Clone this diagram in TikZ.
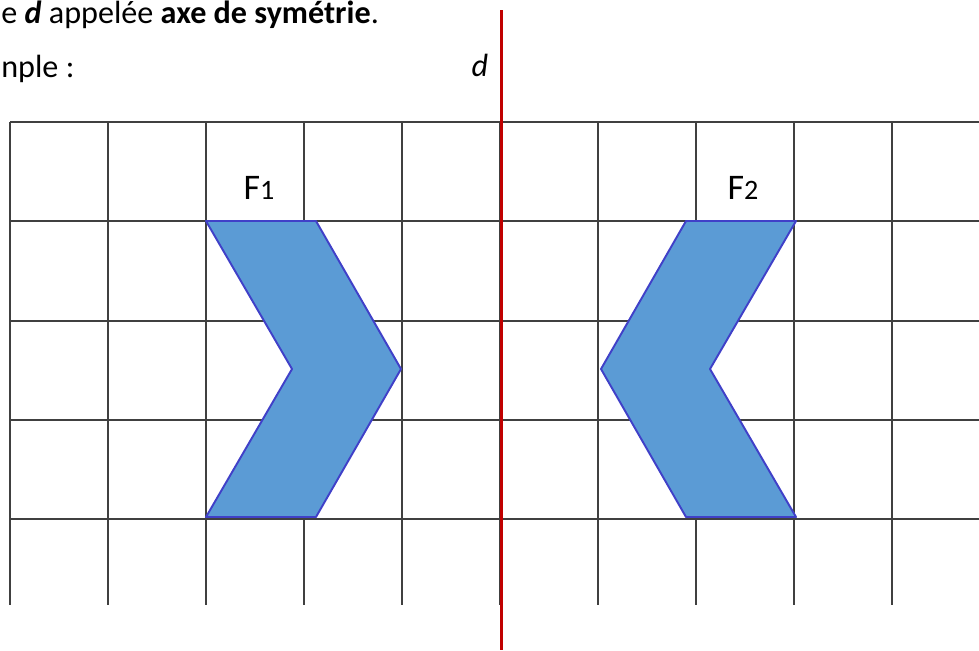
\documentclass[tikz,border=0pt]{standalone}
\usepackage{fontspec}
\setmainfont{Carlito}
\definecolor{axered}{HTML}{C00000}
\definecolor{shapefill}{HTML}{5B9BD5}
\definecolor{shapeline}{HTML}{4040C8}
\definecolor{gridgray}{HTML}{404040}

\begin{document}
\begin{tikzpicture}[x=0.02cm, y=-0.02cm,
  txt/.style={inner sep=0pt, font=\fontsize{18.3}{21}\selectfont},
  lbl/.style={inner sep=0pt, font=\fontsize{20.5}{24}\selectfont},
  gridline/.style={draw=gridgray, line width=0.8pt},
  axis/.style={draw=axered, line width=1.7pt},
  figure/.style={fill=shapefill, draw=shapeline, line width=1.1pt, line join=round}
]
  \useasboundingbox (0,0) rectangle (979,650);

  % texte
  \node[txt, anchor=base west] (def) at (1,23)
    {e \textbf{\textit{d}} appelée \textbf{axe de symétrie}.};
  \node[txt, anchor=base west] (ex) at (1,77) {nple :};
  \node[txt, anchor=base] (d) at (480,76) {\textit{d}};

  % quadrillage
  \draw[gridline] (10,122) -- (979,122);
  \draw[gridline] (10,221) -- (979,221);
  \draw[gridline] (10,321) -- (979,321);
  \draw[gridline] (10,420) -- (979,420);
  \draw[gridline] (10,519) -- (979,519);
  \draw[gridline] (10,122) -- (10,605);
  \draw[gridline] (108,122) -- (108,605);
  \draw[gridline] (206,122) -- (206,605);
  \draw[gridline] (304,122) -- (304,605);
  \draw[gridline] (402,122) -- (402,605);
  \draw[gridline] (500,122) -- (500,605);
  \draw[gridline] (598,122) -- (598,605);
  \draw[gridline] (696,122) -- (696,605);
  \draw[gridline] (794,122) -- (794,605);
  \draw[gridline] (892,122) -- (892,605);

  % figures
  \draw[figure] (206,221) -- (316,221) -- (401,369) -- (316,517)
    -- (206,517) -- (292,369) -- cycle;
  \draw[figure] (796,221) -- (686,221) -- (601,369) -- (686,517)
    -- (796,517) -- (710,369) -- cycle;

  \node[lbl, anchor=base] (F1) at (259,199) {F{\fontsize{16}{18}\selectfont 1}};
  \node[lbl, anchor=base] (F2) at (743,199) {F{\fontsize{16}{18}\selectfont 2}};

  % axe
  \draw[axis] (501,10) -- (501,650);
\end{tikzpicture}
\end{document}
